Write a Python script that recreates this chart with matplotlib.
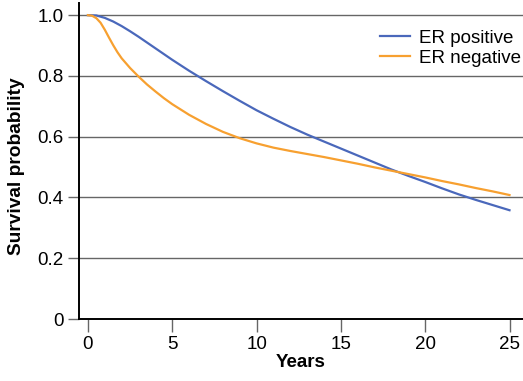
import matplotlib
matplotlib.use("Agg")
import matplotlib.pyplot as plt

plt.rcParams['font.family'] = ['Liberation Sans', 'DejaVu Sans']

# Survival curves by oestrogen-receptor status
pos_years = [0, 0.5, 1, 1.5, 2, 2.5, 3, 4, 5, 6, 7, 8, 9, 10, 11, 12, 13, 14,
             15, 16, 17, 18, 19, 20, 21, 22, 23, 24, 25]
er_positive = [1.0, 0.999, 0.991, 0.979, 0.964, 0.947, 0.929, 0.891, 0.853,
               0.817, 0.783, 0.75, 0.718, 0.687, 0.659, 0.632, 0.607, 0.584,
               0.561, 0.538, 0.515, 0.492, 0.471, 0.451, 0.43, 0.41, 0.392,
               0.375, 0.358]

neg_years = [0, 0.25, 0.5, 0.75, 1, 1.25, 1.5, 1.75, 2, 2.5, 3, 3.5, 4, 4.5, 5,
             6, 7, 8, 9, 10, 11, 12, 13, 14, 15, 16, 17, 18, 19, 20, 21, 22,
             23, 24, 25]
er_negative = [1.0, 0.998, 0.99, 0.975, 0.952, 0.926, 0.901, 0.878, 0.858,
               0.826, 0.798, 0.772, 0.749, 0.727, 0.707, 0.672, 0.642, 0.616,
               0.595, 0.578, 0.564, 0.553, 0.543, 0.533, 0.522, 0.511, 0.499,
               0.488, 0.477, 0.466, 0.454, 0.443, 0.431, 0.42, 0.408]

x_ticks = [0, 5, 10, 15, 20, 25]
y_ticks = [0, 0.2, 0.4, 0.6, 0.8, 1.0]
y_tick_labels = ["0", "0.2", "0.4", "0.6", "0.8", "1.0"]

fig = plt.figure(figsize=(5.23, 3.81), dpi=100)
ax = fig.add_axes([79 / 523, 62 / 381, 1 - 79 / 523, (319 - 3) / 381])

ax.set_xlim(-0.53, 25.8)
ax.set_ylim(0, 1.04)

for yv in y_ticks[1:]:
    ax.axhline(yv, color='#666666', linewidth=1.0, zorder=1)

ax.plot(pos_years, er_positive, color='#4a68bb', linewidth=1.6,
        label='ER positive', zorder=3)
ax.plot(neg_years, er_negative, color='#f7a030', linewidth=1.6,
        label='ER negative', zorder=3)

ax.set_xticks(x_ticks)
ax.set_yticks(y_ticks)
ax.set_yticklabels(y_tick_labels)
ax.tick_params(axis='x', length=9, width=1.0, color='#666666', pad=3, labelsize=13.5)
ax.tick_params(axis='y', length=8, width=1.0, color='#666666', pad=3, labelsize=13.5)

for side in ['top', 'right']:
    ax.spines[side].set_visible(False)
for side in ['left', 'bottom']:
    ax.spines[side].set_linewidth(1.4)
    ax.spines[side].set_color('black')

ax.set_xlabel('Years', fontweight='bold', fontsize=13.5, labelpad=1)
ax.set_ylabel('Survival probability', fontweight='bold', fontsize=13.8)
ax.yaxis.set_label_coords(-0.121, 0.485)

leg = ax.legend(loc='upper right', bbox_to_anchor=(1.012, 0.94), frameon=False,
                fontsize=13.5, handlelength=1.6, handletextpad=0.45,
                labelspacing=0.15, borderaxespad=0)

fig.savefig('out.png', dpi=100, facecolor='white')
